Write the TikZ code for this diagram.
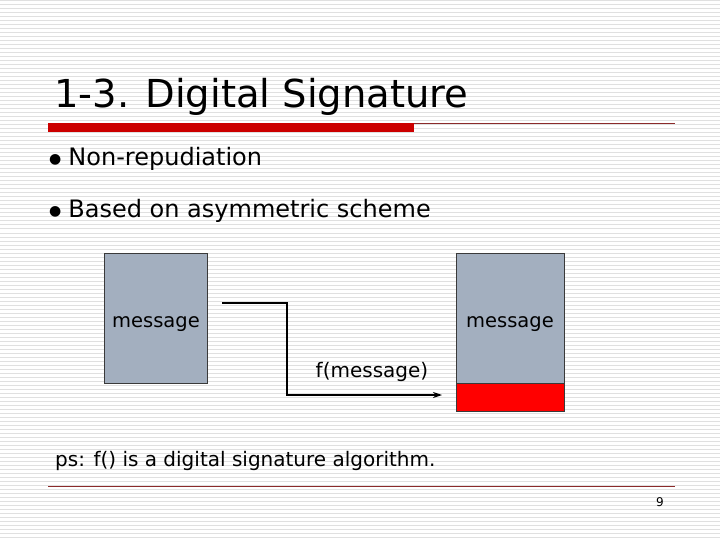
\documentclass[tikz,border=0pt]{standalone}
\usepackage{fontspec}
\setmainfont{DejaVu Sans}
\usepackage{xcolor}
\definecolor{slidestripe}{HTML}{E0E0E0}
\definecolor{slidered}{HTML}{CC0000}
\definecolor{slideline}{HTML}{8B2A2A}
\definecolor{boxgrey}{HTML}{A3AFBF}
\definecolor{boxedge}{HTML}{3A3A3A}
\definecolor{sigred}{HTML}{FF0000}
\usetikzlibrary{positioning, arrows.meta}

\begin{document}
\begin{tikzpicture}[x=1pt, y=-1pt, >={Stealth[length=9pt, width=6pt]},
                    every node/.style={black, inner sep=0pt},
                    msgbox/.style={draw=boxedge, fill=boxgrey, line width=0.8pt,
                                   minimum width=103pt, minimum height=130pt},
                    msgtext/.style={anchor=base, font=\fontsize{19.5}{20}\selectfont},
                    bullet/.style={anchor=base west, font=\fontsize{24}{24}\selectfont}]

  %% 背景：白底加細灰橫紋
  \useasboundingbox (0,0) rectangle (720,540);
  \fill[white] (0,0) rectangle (720,540);
  \foreach \y in {1,5,...,539}
    \draw[slidestripe, line width=1pt] (0,\y) -- (720,\y);

  %% 標題與其下的紅色粗條
  \node[anchor=base west, font=\fontsize{38.5}{40}\selectfont] (title) at (54,108)
    {1-3. Digital Signature};
  \fill[slidered] (48,123) rectangle (414,132);
  \draw[slideline, line width=0.8pt] (414,123.5) -- (675,123.5);

  %% 條列
  \node[bullet] (item1) at (49,166)
    {\raisebox{2pt}{\fontsize{14}{14}\selectfont●}\hspace{7pt}Non-repudiation};
  \node[bullet] (item2) at (49,218)
    {\raisebox{2pt}{\fontsize{14}{14}\selectfont●}\hspace{7pt}Based on asymmetric scheme};

  %% 原始訊息與簽過的訊息
  \node[msgbox] (lbox) at (155.5,318) {};
  \node[msgbox, minimum width=108pt] (rbox) at (510,318) {};
  \node[draw=boxedge, fill=sigred, line width=0.8pt, minimum width=108pt,
        minimum height=28pt, below=0pt of rbox] (sig) {};
  \node[msgtext] (lmsg) at (156,327) {message};
  \node[msgtext] (rmsg) at (510,327) {message};

  %% 簽章函數的折線箭頭
  \coordinate (src) at (222,303);
  \coordinate (dst) at (442,395);
  \draw[line width=1.1pt, ->] (src) -| (287,395) -- (dst);
  \node[anchor=base, font=\fontsize{20}{20}\selectfont] (fmsg) at (372,377) {f(message)};

  %% 附註與頁尾
  \node[anchor=base west, font=\fontsize{20}{20}\selectfont] (note) at (55,466)
    {ps: f() is a digital signature algorithm.};
  \draw[slideline, line width=0.8pt] (48,486.5) -- (675,486.5);
  \node[anchor=base, font=\fontsize{12}{12}\selectfont] (page) at (660,506) {9};

\end{tikzpicture}
\end{document}
